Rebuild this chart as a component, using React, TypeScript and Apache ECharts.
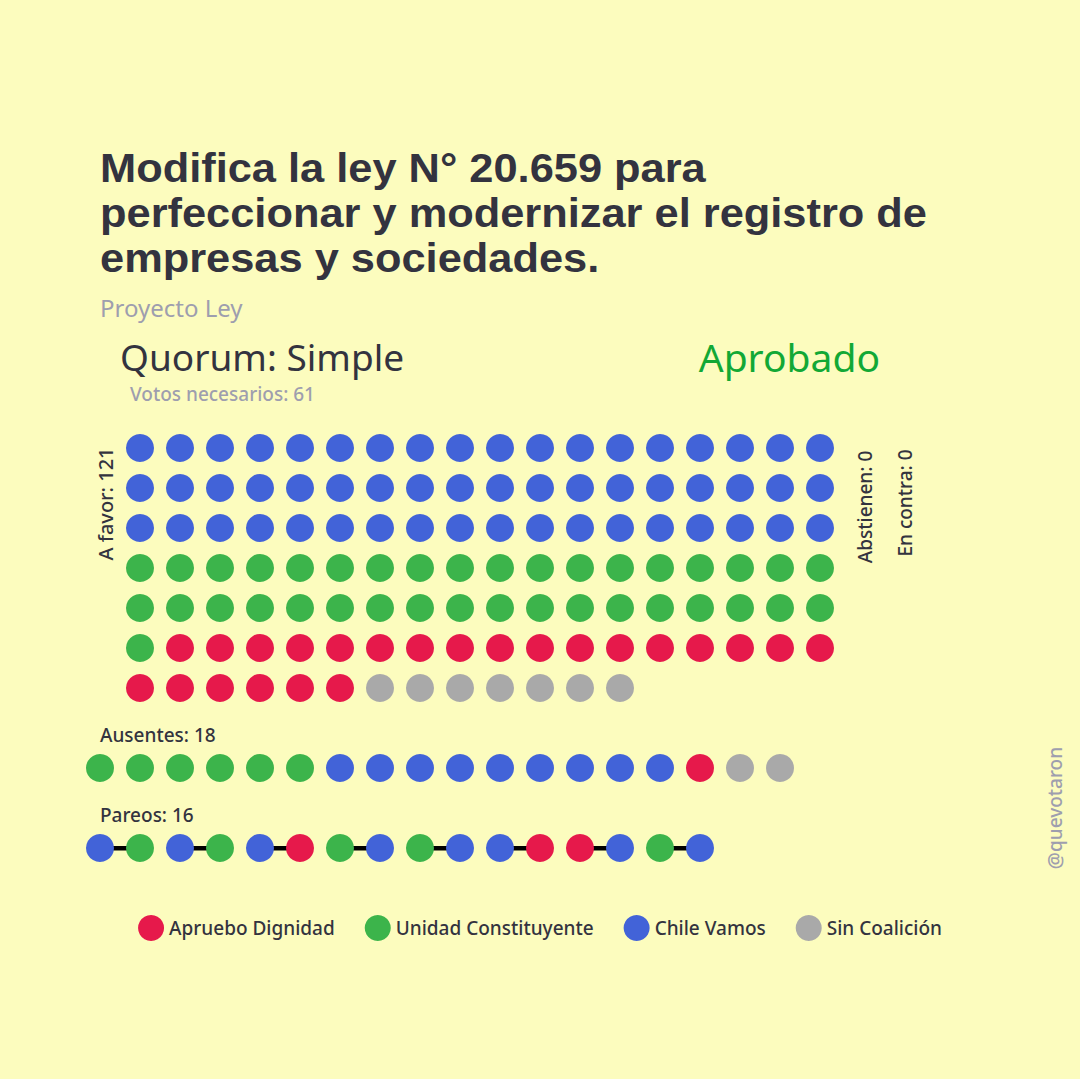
import React, { useEffect, useRef } from "react";
import * as echarts from "echarts";

const FONT = "'Noto Sans', 'DejaVu Sans', sans-serif";
const TITLE_FONT = "'Liberation Sans', Arial, sans-serif";
const BG = "#FCFCBE";
const DARK = "#33333F";
const GRAY = "#9E9EAE";

const coalitions = ["Apruebo Dignidad", "Unidad Constituyente", "Chile Vamos", "Sin Coalición"];
const coalitionColors = ["#E6194B", "#3CB44B", "#4263D8", "#A9A9A9"];

const titleLines = [
  "Modifica la ley N° 20.659 para",
  "perfeccionar y modernizar el registro de",
  "empresas y sociedades.",
];
const subtitle = "Proyecto Ley";
const quorumLabel = "Quorum: Simple";
const resultLabel = "Aprobado";
const votosNecesarios = 61;

// A favor, in fill order: [coalition, count]
const aFavorGroups: [string, number][] = [
  ["Chile Vamos", 54],
  ["Unidad Constituyente", 37],
  ["Apruebo Dignidad", 23],
  ["Sin Coalición", 7],
];
const abstienen = 0;
const enContra = 0;
// Ausentes, in order
const ausentesGroups: [string, number][] = [
  ["Unidad Constituyente", 6],
  ["Chile Vamos", 9],
  ["Apruebo Dignidad", 1],
  ["Sin Coalición", 2],
];
// Pareos, seat by seat (consecutive pairs are paired)
const pareos: string[] = [
  "Chile Vamos", "Unidad Constituyente",
  "Chile Vamos", "Unidad Constituyente",
  "Chile Vamos", "Apruebo Dignidad",
  "Unidad Constituyente", "Chile Vamos",
  "Unidad Constituyente", "Chile Vamos",
  "Chile Vamos", "Apruebo Dignidad",
  "Apruebo Dignidad", "Chile Vamos",
  "Unidad Constituyente", "Chile Vamos",
];

const COLS = 18;

function expand(groups: [string, number][]): string[] {
  const out: string[] = [];
  groups.forEach(([c, n]) => {
    for (let i = 0; i < n; i++) out.push(c);
  });
  return out;
}

export default function App() {
  const ref = useRef<HTMLDivElement>(null);
  useEffect(() => {
    document.body.style.margin = "0";
    document.body.style.background = BG;
    const chart = echarts.init(ref.current!, null, { renderer: "svg" });

    const favorSeats = expand(aFavorGroups);
    const ausentesSeats = expand(ausentesGroups);
    const totalFavor = favorSeats.length;

    const pointsBy: Record<string, number[][]> = {};
    coalitions.forEach((c) => (pointsBy[c] = []));
    favorSeats.forEach((c, i) => {
      pointsBy[c].push([i % COLS, Math.floor(i / COLS)]);
    });
    ausentesSeats.forEach((c, i) => {
      pointsBy[c].push([i - 1, 8]);
    });
    pareos.forEach((c, i) => {
      pointsBy[c].push([i - 1, 10]);
    });

    const pairLines: { coords: number[][] }[] = [];
    for (let i = 0; i + 1 < pareos.length; i += 2) {
      pairLines.push({ coords: [[i - 1, 10], [i, 10]] });
    }

    const txt = (x: number, y: number, text: string, size: number, color: string, weight: any, extra: any = {}, family = FONT) => ({
      type: "text",
      x,
      y,
      ...extra,
      style: {
        text,
        fill: color,
        font: `${weight} ${size}px ${family}`,
        textVerticalAlign: "middle",
        verticalAlign: "middle",
        ...(extra.style || {}),
      },
    });
    const rot = { rotation: Math.PI / 2, style: { align: "center", textAlign: "center" } };

    chart.setOption({
      animation: false,
      backgroundColor: BG,
      grid: { left: 100, top: 448, width: 720, height: 400 },
      xAxis: { type: "value", min: -1, max: 17, show: false },
      yAxis: { type: "value", min: 0, max: 10, inverse: true, show: false },
      legend: {
        data: coalitions.map((c) => ({ name: c, icon: "circle" })),
        top: 910,
        left: "center",
        itemWidth: 26,
        itemHeight: 26,
        itemGap: 30,
        textStyle: { fontFamily: FONT, fontSize: 19, fontWeight: 500, color: DARK },
        selectedMode: false,
      },
      graphic: [
        ...titleLines.map((l, i) =>
          txt(100, 168 + i * 45, l, 40, DARK, "bold", { scaleX: 1.085, style: { lineHeight: 44 } }, TITLE_FONT)
        ),
        txt(100, 307, subtitle, 24, GRAY, "normal"),
        txt(120, 356, quorumLabel, 37, DARK, "normal"),
        txt(880, 356, resultLabel, 39, "#12A835", "normal", { style: { align: "right", textAlign: "right" } }),
        txt(130, 394, `Votos necesarios: ${votosNecesarios}`, 19, GRAY, 500),
        txt(105, 504, `A favor: ${totalFavor}`, 20, DARK, 500, rot),
        txt(865, 507, `Abstienen: ${abstienen}`, 19, DARK, 500, rot),
        txt(905, 503, `En contra: ${enContra}`, 19, DARK, 500, rot),
        txt(1055, 808, "@quevotaron", 19, GRAY, 500, rot),
        txt(100, 735, `Ausentes: ${ausentesSeats.length}`, 19, DARK, 500),
        txt(100, 815, `Pareos: ${pareos.length}`, 19, DARK, 500),
      ],
      series: [
        {
          type: "lines",
          coordinateSystem: "cartesian2d",
          data: pairLines,
          lineStyle: { color: "#000000", width: 5, opacity: 1 },
          z: 1,
          silent: true,
        },
        ...coalitions.map((c, i) => ({
          name: c,
          type: "scatter",
          data: pointsBy[c],
          symbol: "circle",
          symbolSize: 28,
          itemStyle: { color: coalitionColors[i], opacity: 1 },
          z: 3,
        })),
      ],
    });
    return () => chart.dispose();
  }, []);
  return <div ref={ref} style={{ position: "fixed", left: 0, top: 0, width: 1080, height: 1079 }} />;
}
